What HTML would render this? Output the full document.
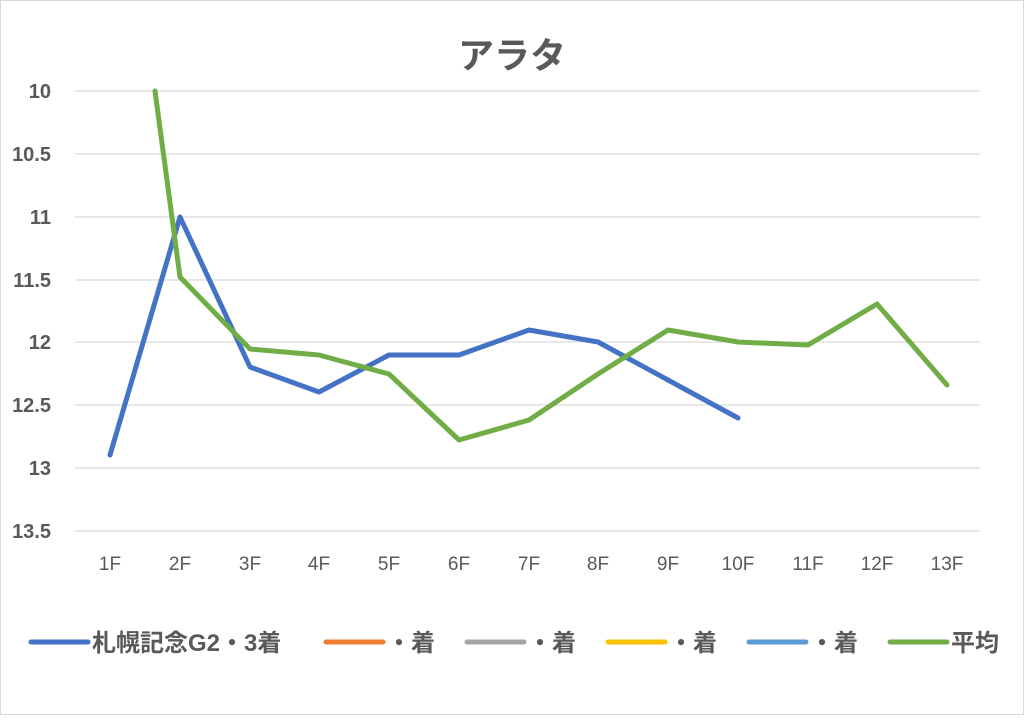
<!DOCTYPE html>
<html><head><meta charset="utf-8"><style>
body{margin:0;background:#fff;width:1024px;height:715px;overflow:hidden}
svg text{font-family:"Liberation Sans","Noto Sans CJK JP",sans-serif;fill:#595959}
</style></head><body>
<svg width="1024" height="715" xmlns="http://www.w3.org/2000/svg">
<rect x="0.5" y="0.5" width="1023" height="714" fill="#fff" stroke="#d9d9d9"/>
<text x="512" y="68" font-size="36" font-weight="bold" text-anchor="middle">アラタ</text>
<g stroke="#d9d9d9" stroke-width="1.3">
<line x1="75" x2="980" y1="91" y2="91"/><line x1="75" x2="980" y1="154" y2="154"/>
<line x1="75" x2="980" y1="217" y2="217"/><line x1="75" x2="980" y1="280" y2="280"/>
<line x1="75" x2="980" y1="342" y2="342"/><line x1="75" x2="980" y1="405" y2="405"/>
<line x1="75" x2="980" y1="468" y2="468"/><line x1="75" x2="980" y1="531" y2="531"/>
</g>
<g font-size="20" text-anchor="end" font-weight="bold">
<text x="51" y="98">10</text><text x="51" y="161">10.5</text><text x="51" y="224">11</text>
<text x="51" y="287">11.5</text><text x="51" y="349">12</text><text x="51" y="412">12.5</text>
<text x="51" y="475">13</text><text x="51" y="538">13.5</text>
</g>
<g font-size="19" text-anchor="middle">
<text x="110" y="570">1F</text><text x="180" y="570">2F</text><text x="250" y="570">3F</text>
<text x="319" y="570">4F</text><text x="389" y="570">5F</text><text x="459" y="570">6F</text>
<text x="529" y="570">7F</text><text x="598" y="570">8F</text><text x="668" y="570">9F</text>
<text x="738" y="570">10F</text><text x="808" y="570">11F</text><text x="877" y="570">12F</text>
<text x="947" y="570">13F</text>
</g>
<polyline fill="none" stroke="#4472c4" stroke-width="5" stroke-linejoin="round" stroke-linecap="round"
points="110,455 180,217 250,367 319,392 389,355 459,355 529,330 598,342 668,380 738,418"/>
<polyline fill="none" stroke="#70ad47" stroke-width="5" stroke-linejoin="round" stroke-linecap="round"
points="155,91 180,277 250,349 319,355 389,374 459,440 529,420 598,374 668,330 738,342 808,345 877,304 947,385"/>
<g stroke-width="5" stroke-linecap="round">
<line x1="31" x2="88" y1="642" y2="642" stroke="#4472c4"/>
<line x1="326" x2="383" y1="642" y2="642" stroke="#ed7d31"/>
<line x1="467" x2="524" y1="642" y2="642" stroke="#a5a5a5"/>
<line x1="608" x2="665" y1="642" y2="642" stroke="#ffc000"/>
<line x1="749" x2="806" y1="642" y2="642" stroke="#5b9bd5"/>
<line x1="890" x2="947" y1="642" y2="642" stroke="#70ad47"/>
</g>
<g font-size="24" font-weight="bold">
<text x="92" y="651">札幌記念G2・3着</text>
<text x="387" y="651">・着</text>
<text x="528" y="651">・着</text>
<text x="669" y="651">・着</text>
<text x="810" y="651">・着</text>
<text x="951" y="651">平均</text>
</g>
</svg>
</body></html>
